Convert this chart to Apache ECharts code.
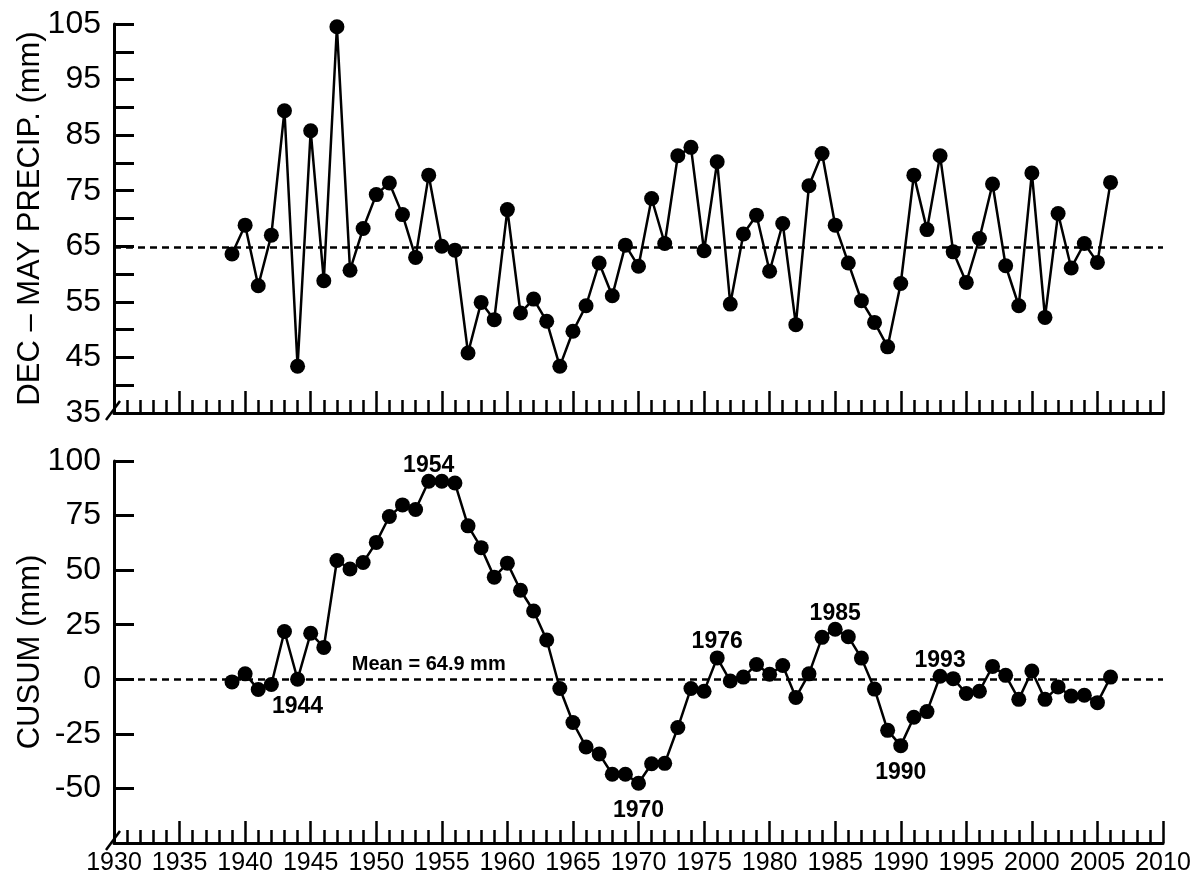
<!DOCTYPE html>
<html>
<head>
<meta charset="utf-8">
<script src="https://cdn.jsdelivr.net/npm/echarts@6/dist/echarts.min.js"></script>
<style>html,body{margin:0;padding:0;background:#fff;}#c{width:1198px;height:884px;}</style>
</head>
<body>
<div id="c"></div>
<script>
const years = [1939,1940,1941,1942,1943,1944,1945,1946,1947,1948,1949,1950,1951,1952,1953,1954,1955,1956,1957,1958,1959,1960,1961,1962,1963,1964,1965,1966,1967,1968,1969,1970,1971,1972,1973,1974,1975,1976,1977,1978,1979,1980,1981,1982,1983,1984,1985,1986,1987,1988,1989,1990,1991,1992,1993,1994,1995,1996,1997,1998,1999,2000,2001,2002,2003,2004,2005,2006];
const precip = [63.6,68.8,57.9,67.0,89.4,43.4,85.8,58.8,104.5,60.7,68.2,74.3,76.4,70.7,63.0,77.8,65.0,64.3,45.8,54.9,51.8,71.6,53.0,55.5,51.5,43.4,49.7,54.3,62.0,56.1,65.2,61.4,73.6,65.5,81.3,82.8,64.2,80.2,54.6,67.2,70.6,60.5,69.1,50.9,75.9,81.7,68.8,62.0,55.2,51.3,46.9,58.3,77.8,68.0,81.3,64.0,58.5,66.4,76.2,61.5,54.3,78.2,52.2,70.9,61.1,65.5,62.1,76.5];
const cusum = [-1.2,2.5,-4.7,-2.4,21.9,0.0,21.1,14.6,54.4,50.5,53.5,62.7,74.6,79.9,77.8,90.7,90.7,89.9,70.3,60.3,46.8,53.2,40.8,31.3,18.0,-4.2,-19.8,-31.0,-34.2,-43.5,-43.5,-47.6,-38.7,-38.5,-22.1,-4.2,-5.5,9.8,-0.8,1.0,6.8,2.3,6.3,-8.3,2.5,19.2,22.9,19.5,9.7,-4.5,-23.4,-30.4,-17.4,-14.8,1.4,0.3,-6.5,-5.5,5.9,1.8,-9.2,3.8,-9.2,-3.5,-7.7,-7.3,-10.7,1.0];
const meanPrecip = 64.9;
const meanLabel = 'Mean = 64.9 mm';
const labelYears = [1944,1954,1970,1976,1985,1990,1993];
const labelPositions = ['bottom','top','bottom','top','top','bottom','top'];
const xTicks = [1930,1935,1940,1945,1950,1955,1960,1965,1970,1975,1980,1985,1990,1995,2000,2005,2010];
const topTicks = [35,45,55,65,75,85,95,105];
const bottomTicks = [-50,-25,0,25,50,75,100];

const FONT = 'Liberation Sans, Arial, Helvetica, sans-serif';
const chart = echarts.init(document.getElementById('c'), null, {renderer: 'canvas'});

const axisLine = {show: true, onZero: false, lineStyle: {color: '#000', width: 3}};
function xAxis(gridIndex, showLabels) {
  return {
    type: 'value', gridIndex, min: xTicks[0], max: xTicks[xTicks.length - 1], interval: 5,
    axisLine,
    axisTick: {show: true, inside: true, length: 22, lineStyle: {color: '#000', width: 2.5}},
    minorTick: {show: true, splitNumber: 5, length: 13, lineStyle: {color: '#000', width: 2.5}},
    splitLine: {show: false}, minorSplitLine: {show: false},
    axisLabel: {show: showLabels, color: '#000', fontSize: 25, fontFamily: FONT, margin: 8,
      formatter: v => String(v)}
  };
}

const topData = years.map((y, i) => [y, precip[i]]);
const bottomData = years.map((y, i) => {
  const k = labelYears.indexOf(y);
  const item = {value: [y, cusum[i]]};
  if (k >= 0) {
    item.label = {show: true, formatter: String(y), position: labelPositions[k],
      distance: labelPositions[k] === 'top' ? -3 : 8,
      color: '#000', fontSize: 23, fontWeight: 'bold', fontFamily: FONT};
  }
  return item;
});

const dashed = {color: '#000', width: 2.5, type: [7, 5]};
const nameStyle = {color: '#000', fontSize: 31, fontFamily: FONT};

chart.setOption({
  backgroundColor: '#fff',
  animation: false,
  grid: [
    {left: 114, right: 35, top: 24, bottom: 471, outerBoundsMode: 'none'},
    {left: 114, right: 35, top: 461, bottom: 41, outerBoundsMode: 'none'}
  ],
  xAxis: [xAxis(0, false), xAxis(1, true)],
  yAxis: [
    {
      type: 'value', gridIndex: 0, min: 35, max: 105, interval: 5,
      axisLine,
      axisTick: {show: true, inside: true, length: 20, lineStyle: {color: '#000', width: 3}},
      splitLine: {show: false},
      axisLabel: {color: '#000', fontSize: 32, fontFamily: FONT, margin: 13,
        formatter: v => topTicks.indexOf(v) >= 0 ? String(v) : ''},
      name: 'DEC \u2013 MAY PRECIP. (mm)', nameLocation: 'middle', nameRotate: 90, nameGap: 68,
      nameMoveOverlap: false,
      nameTextStyle: nameStyle
    },
    {
      type: 'value', gridIndex: 1, min: -75, max: 100, interval: 25,
      axisLine,
      axisTick: {show: true, inside: true, length: 20, lineStyle: {color: '#000', width: 3}},
      splitLine: {show: false},
      axisLabel: {color: '#000', fontSize: 32, fontFamily: FONT, margin: 13,
        formatter: v => bottomTicks.indexOf(v) >= 0 ? String(v) : ''},
      name: 'CUSUM (mm)', nameLocation: 'middle', nameRotate: 90, nameGap: 68,
      nameMoveOverlap: false,
      nameTextStyle: nameStyle
    }
  ],
  series: [
    {
      type: 'line', xAxisIndex: 0, yAxisIndex: 0, data: topData,
      symbol: 'circle', symbolSize: 15, showAllSymbol: true,
      itemStyle: {color: '#000'}, lineStyle: {color: '#000', width: 2.5},
      markLine: {silent: true, symbol: 'none', label: {show: false}, lineStyle: dashed,
        data: [{yAxis: meanPrecip}]}
    },
    {
      type: 'line', xAxisIndex: 1, yAxisIndex: 1, data: bottomData,
      symbol: 'circle', symbolSize: 15, showAllSymbol: true,
      itemStyle: {color: '#000'}, lineStyle: {color: '#000', width: 2.5},
      markLine: {silent: true, symbol: 'none', label: {show: false}, lineStyle: dashed,
        data: [{yAxis: 0}]},
      markPoint: {silent: true, symbol: 'circle', symbolSize: 0,
        data: [{coord: [1954, 0], value: meanLabel,
          label: {show: true, formatter: meanLabel, color: '#000', fontSize: 20, fontWeight: 'bold',
            fontFamily: FONT, position: 'inside', offset: [0, -15]}}]}
    }
  ]
});

// axis-break slashes at the two origins
function slash(gridIdx, x0, y0) {
  const p = chart.convertToPixel({gridIndex: gridIdx}, [x0, y0]);
  return {type: 'line', shape: {x1: p[0] - 8, y1: p[1] + 7, x2: p[0] + 6, y2: p[1] - 12},
    style: {stroke: '#000', lineWidth: 2.5}, z: 100};
}
chart.setOption({graphic: [slash(0, 1930, 35), slash(1, 1930, -75)]});
</script>
</body>
</html>
